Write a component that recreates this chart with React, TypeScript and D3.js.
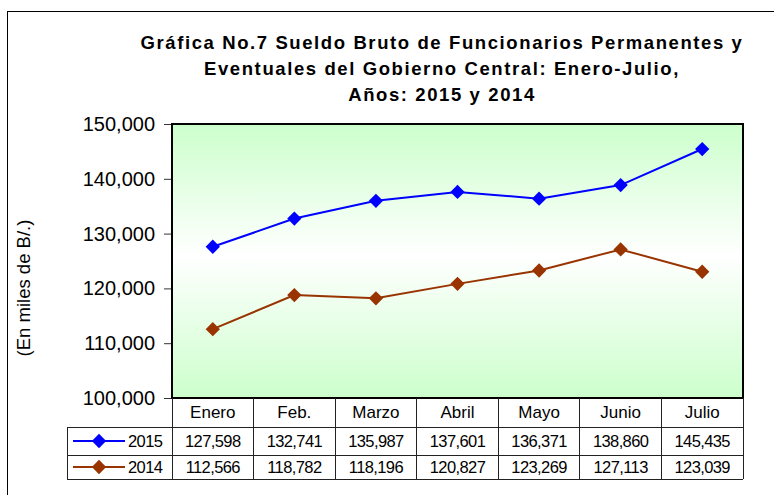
import React, { useEffect, useRef } from 'react';
import * as d3 from 'd3';

const months = ['Enero', 'Feb.', 'Marzo', 'Abril', 'Mayo', 'Junio', 'Julio'];
const values2015 = [127598, 132741, 135987, 137601, 136371, 138860, 145435];
const values2014 = [112566, 118782, 118196, 120827, 123269, 127113, 123039];
const yTicks = [100000, 110000, 120000, 130000, 140000, 150000];
const titleLines = [
  'Gráfica No.7 Sueldo Bruto de Funcionarios Permanentes y',
  'Eventuales del Gobierno Central: Enero-Julio,',
  'Años: 2015 y 2014',
];

const series = [
  { name: '2015', values: values2015, color: '#0000ff' },
  { name: '2014', values: values2014, color: '#993300' },
];

const FONT = '"Liberation Sans", Arial, sans-serif';

const App = () => {
  const svgRef = useRef<SVGSVGElement>(null);

  useEffect(() => {
    const svg = d3.select(svgRef.current);
    svg.selectAll('*').remove();

    const plot = { left: 172, top: 124, right: 743, bottom: 398 };
    const rowH = [29, 28, 24]; // header, 2015, 2014
    const tableLeft = 67;

    // outer frame
    svg.append('rect')
      .attr('x', 7.5).attr('y', 11.5)
      .attr('width', 800).attr('height', 600)
      .attr('fill', 'white').attr('stroke', 'black').attr('stroke-width', 1);

    // title
    const title = svg.append('text')
      .attr('text-anchor', 'middle')
      .style('font-family', FONT)
      .style('font-weight', 'bold')
      .style('font-size', '18.5px')
      .style('letter-spacing', '1.6px');
    titleLines.forEach((t, i) => {
      title.append('tspan').attr('x', 442).attr('y', 49 + i * 26).text(t);
    });

    // gradient
    const defs = svg.append('defs');
    const grad = defs.append('linearGradient')
      .attr('id', 'bg').attr('x1', 0).attr('y1', 0).attr('x2', 0).attr('y2', 1);
    grad.append('stop').attr('offset', '0%').attr('stop-color', '#ccffcc');
    grad.append('stop').attr('offset', '48%').attr('stop-color', '#ffffff');
    grad.append('stop').attr('offset', '100%').attr('stop-color', '#ccffcc');

    const x = d3.scaleBand<string>()
      .domain(months)
      .range([plot.left, plot.right]);
    const y = d3.scaleLinear()
      .domain([100000, 150000])
      .range([plot.bottom, plot.top]);

    svg.append('rect')
      .attr('x', plot.left).attr('y', plot.top)
      .attr('width', plot.right - plot.left).attr('height', plot.bottom - plot.top)
      .attr('fill', 'url(#bg)');

    // y axis
    const yAxis = d3.axisLeft(y)
      .tickValues(yTicks)
      .tickSize(8)
      .tickPadding(9)
      .tickFormat(d => d3.format(',')(d as number));
    const yG = svg.append('g')
      .attr('transform', `translate(${plot.left},0)`)
      .call(yAxis);
    yG.select('.domain').remove();
    yG.selectAll('line').attr('stroke', '#333');
    yG.selectAll('text')
      .style('font-family', FONT)
      .style('font-size', '20px')
      .attr('fill', 'black');

    // y title
    svg.append('text')
      .attr('transform', 'translate(30,288) rotate(-90)')
      .attr('text-anchor', 'middle')
      .style('font-family', FONT)
      .style('font-size', '18.5px')
      .text('(En miles de B/.)');

    // lines and markers
    const line = d3.line<number>()
      .x((d, i) => x(months[i])! + x.bandwidth() / 2)
      .y(d => y(d));
    const diamond = d3.symbol().type(d3.symbolDiamond2).size(130);

    series.forEach(s => {
      svg.append('path')
        .datum(s.values)
        .attr('d', line)
        .attr('fill', 'none')
        .attr('stroke', s.color)
        .attr('stroke-width', 2);
      svg.selectAll(null)
        .data(s.values)
        .enter()
        .append('path')
        .attr('d', diamond)
        .attr('transform', (d, i) => `translate(${x(months[i])! + x.bandwidth() / 2},${y(d)})`)
        .attr('fill', s.color);
    });

    // plot border
    svg.append('rect')
      .attr('x', plot.left).attr('y', plot.top)
      .attr('width', plot.right - plot.left).attr('height', plot.bottom - plot.top)
      .attr('fill', 'none').attr('stroke', 'black').attr('stroke-width', 2);

    // data table
    const t0 = plot.bottom;
    const t1 = t0 + rowH[0];
    const t2 = t1 + rowH[1];
    const t3 = t2 + rowH[2];
    const grid = svg.append('g').attr('stroke', '#222').attr('stroke-width', 1).attr('shape-rendering', 'crispEdges');
    months.forEach(m => {
      grid.append('line')
        .attr('x1', x(m)!).attr('x2', x(m)!)
        .attr('y1', t0).attr('y2', t3);
    });
    grid.append('line').attr('x1', plot.right).attr('x2', plot.right).attr('y1', t0).attr('y2', t3);
    grid.append('line').attr('x1', tableLeft).attr('x2', tableLeft).attr('y1', t1).attr('y2', t3);
    [t1, t2, t3].forEach(yy => {
      grid.append('line').attr('x1', tableLeft).attr('x2', plot.right).attr('y1', yy).attr('y2', yy);
    });

    svg.append('g')
      .selectAll('text')
      .data(months)
      .enter()
      .append('text')
      .attr('x', d => x(d)! + x.bandwidth() / 2)
      .attr('y', t0 + 20)
      .attr('text-anchor', 'middle')
      .style('font-family', FONT)
      .style('font-size', '17px')
      .text(d => d);

    const fmt = d3.format(',');
    series.forEach((s, si) => {
      const rowTop = si === 0 ? t1 : t2;
      const rowMid = rowTop + (si === 0 ? rowH[1] : rowH[2]) / 2;
      svg.append('g')
        .selectAll('text')
        .data(s.values)
        .enter()
        .append('text')
        .attr('x', (d, i) => x(months[i])! + x.bandwidth() / 2)
        .attr('y', rowMid + 6)
        .attr('text-anchor', 'middle')
        .style('font-family', FONT)
        .style('font-size', '16.5px')
        .style('letter-spacing', '-0.6px')
        .text(d => fmt(d));

      // legend key
      svg.append('line')
        .attr('x1', 73).attr('x2', 125)
        .attr('y1', rowMid).attr('y2', rowMid)
        .attr('stroke', s.color).attr('stroke-width', 2);
      svg.append('path')
        .attr('d', diamond)
        .attr('transform', `translate(99,${rowMid})`)
        .attr('fill', s.color);
      svg.append('text')
        .attr('x', 128)
        .attr('y', rowMid + 6)
        .style('font-family', FONT)
        .style('font-size', '16.5px')
        .style('letter-spacing', '-0.6px')
        .text(s.name);
    });
  }, []);

  return (
    <svg
      ref={svgRef}
      width={774}
      height={495}
      style={{ position: 'absolute', left: 0, top: 0, background: 'white' }}
    />
  );
};

export default App;
